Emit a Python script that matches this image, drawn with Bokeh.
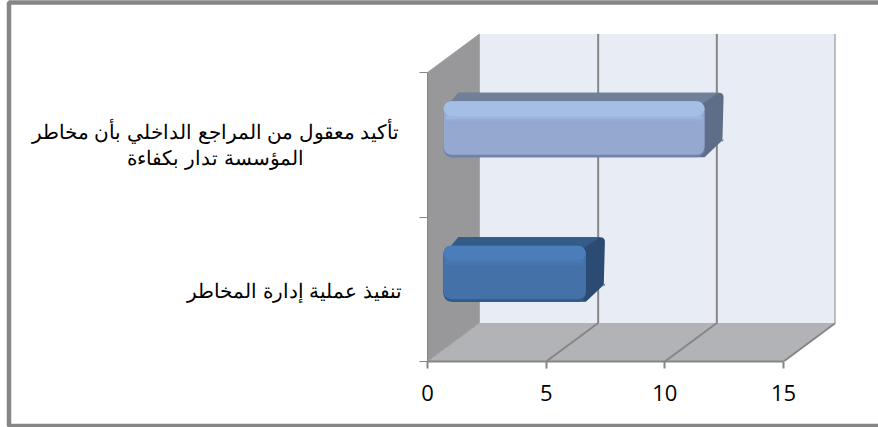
import numpy as np

from bokeh.core.properties import value
from bokeh.embed import file_html
from bokeh.models import FixedTicker, LinearAxis, Range1d
from bokeh.plotting import figure
from bokeh.resources import INLINE

# Chart content
categories = ["تنفيذ عملية إدارة المخاطر",
              "تأكيد معقول من المراجع الداخلي بأن مخاطر\nالمؤسسة تدار بكفاءة"]
values = [6, 11]
value_ticks = [0, 5, 10, 15]
category_edges = [0, 1, 2]
category_centers = [0.5, 1.5]

# Bevel shades per bar
palette = [
    dict(face="#4472A8", light="#4C7DBB", dark="#2F5A8C", top="#345C88", side="#2C4B72"),
    dict(face="#94A8D0", light="#A5BEE6", dark="#6F83A8", top="#708099", side="#5F6E88"),
]

W, H = 878, 427
LEFT, RIGHT, TOP, BOTTOM = 427, 835, 33, 361
UX = (783 - 427) / 15      # pixels per value unit
UY = (361 - 72) / 2        # pixels per category unit
DX, DY = 52 / UX, 38.5 / UY  # chart depth vector in data units

p = figure(width=W, height=H, output_backend="svg", toolbar_location=None,
           x_axis_type=None, y_axis_type=None,
           x_range=Range1d(0, (RIGHT - LEFT) / UX),
           y_range=Range1d(0, (BOTTOM - TOP) / UY),
           min_border_left=LEFT, min_border_right=W - RIGHT,
           min_border_top=TOP, min_border_bottom=H - BOTTOM)
p.grid.visible = False
p.outline_line_color = None
p.background_fill_color = "white"
p.border_fill_color = "white"

xmax = value_ticks[-1]
ymax = category_edges[-1]

# Walls and floor of the 3-D box
p.patch([DX, DX + xmax, DX + xmax, DX], [DY, DY, DY + ymax, DY + ymax],
        fill_color="#E8ECF5", line_color=None)
p.patch([0, DX, DX, 0], [0, DY, DY + ymax, ymax], fill_color="#98989B", line_color=None)
p.patch([0, xmax, xmax + DX, DX], [0, 0, DY, DY], fill_color="#B1B3B6", line_color=None)

GRID = "#868686"
for v in value_ticks[1:]:
    p.line([v, v + DX, v + DX], [0, DY, DY + ymax], line_color=GRID, line_width=2)
p.line([0, DX], [0, DY], line_color="#A0A0A0", line_width=1)
p.line([0, DX], [ymax, DY + ymax], line_color="#A0A0A0", line_width=1)
p.line([DX, DX], [DY, DY + ymax], line_color="#A8A8A8", line_width=1)


def arc(cx, cy, rx, ry, start, stop, n=7):
    t = np.radians(np.linspace(start, stop, n))
    return list(cx + rx * np.cos(t)), list(cy + ry * np.sin(t))


def rounded(x0, x1, y0, y1, rx, ry):
    """Outline of a rounded box, in data units."""
    corners = [(x1 - rx, y1 - ry, 0, 90), (x0 + rx, y1 - ry, 90, 180),
               (x0 + rx, y0 + ry, 180, 270), (x1 - rx, y0 + ry, 270, 360)]
    xs, ys = [], []
    for cx, cy, a, b in corners:
        ax, ay = arc(cx, cy, rx, ry, a, b)
        xs += ax
        ys += ay
    return xs, ys


# Bars: the front plane sits a little way into the depth of the box
X0 = 16 / UX               # front-left offset of every bar
BX, BY = 19 / UX, 8.5 / UY  # depth of a bar
HALF = 28 / UY
RX, RY = 8 / UX, 8 / UY
SX, SY = 4 / UX, 4 / UY    # small radius on the far corners
for cy, val, c in zip(category_centers, values, palette):
    x0, x1 = X0, val + X0
    yc = cy + 15.5 / UY
    y0, y1 = yc - HALF, yc + HALF
    ytop = y1 + BY
    xback = x1 + BX

    # Silhouette of the whole bar, in the colour of the end cap
    cx, cy_ = arc(xback - SX, ytop - SY, SX, SY, 0, 90)
    ex, ey = arc(xback - SX, y0 + 14 / UY + SY, SX, SY, 360, 315)
    p.patch([x0 + RX, x1] + ex + cx + [x0 + 15 / UX, x0, x0],
            [y0, y0] + ey + cy_ + [ytop, y1 - 9 / UY, y0 + RY],
            fill_color=c["side"], line_color=None)
    # Top face, running back from the upper edge of the front
    p.patch([x0, x0 + 15 / UX, xback - SX * 1.2, x1 - RX * 0.3, x0 + RX],
            [y1 - 9 / UY, ytop, ytop, y1 - RY * 0.3, y1 - RY * 0.3],
            fill_color=c["top"], line_color=None)
    # Front face with bevel bands
    xs, ys = rounded(x0, x1, y0, y1, RX, RY)
    p.patch(xs, ys, fill_color=c["dark"], line_color=None)
    xs, ys = rounded(x0, x1, y0 + 2.5 / UY, y1, RX, RY)
    p.patch(xs, ys, fill_color=c["face"], line_color=None)
    xs, ys = rounded(x0, x1, y1 - 15 / UY, y1, RX, RY)
    p.patch(xs, ys, fill_color=c["light"], line_color=None)
    for k, a in enumerate((0.75, 0.5, 0.25)):
        p.quad(left=x0 + 2 / UX, right=x1 - 2 / UX,
               top=y1 - (15 + k * 1.5) / UY, bottom=y1 - (16.5 + k * 1.5) / UY,
               fill_color=c["light"], fill_alpha=a, line_color=None)

# Value axis along the front edge of the floor
xaxis = LinearAxis(ticker=FixedTicker(ticks=value_ticks), bounds=(0, xmax))
xaxis.axis_line_color = GRID
xaxis.axis_line_width = 2
xaxis.major_tick_line_color = GRID
xaxis.major_tick_line_width = 2
xaxis.major_tick_in = 0
xaxis.major_tick_out = 7
xaxis.minor_tick_line_color = None
xaxis.major_label_standoff = 16
xaxis.major_label_text_font = "Open Sans"
xaxis.major_label_text_font_size = "22px"
xaxis.major_label_text_color = "black"
p.add_layout(xaxis, "below")

# Category axis: tick marks only, the names are placed beside it
yaxis = LinearAxis(ticker=FixedTicker(ticks=[], minor_ticks=category_edges), bounds=(0, ymax))
yaxis.axis_line_color = GRID
yaxis.major_tick_line_color = None
yaxis.minor_tick_line_color = GRID
yaxis.minor_tick_line_width = 1
yaxis.minor_tick_in = 0
yaxis.minor_tick_out = 8
p.add_layout(yaxis, "left")

# Category names, each centred on its own text block
label_centers = [(294 - LEFT) / UX, (215 - LEFT) / UX]
label_nudge = [-1.5 / UY, 0]
p.text(x=label_centers, y=[c + n for c, n in zip(category_centers, label_nudge)], text=categories,
       text_font=value("Liberation Sans"), text_font_size="20px", text_color="black",
       text_align="center", text_baseline="middle", text_line_height=1.2,
       level="overlay")

# Outer frame, open on the right like the chart area it surrounds
fx = [(W - LEFT) / UX, (8.5 - LEFT) / UX, (8.5 - LEFT) / UX, (W - LEFT) / UX]
fy = [(BOTTOM - 2) / UY, (BOTTOM - 2) / UY, (BOTTOM - 425.5) / UY, (BOTTOM - 425.5) / UY]
p.line(fx, fy, line_color=GRID, line_width=4.5, level="overlay")

open("out.html", "w").write(file_html(p, INLINE))
